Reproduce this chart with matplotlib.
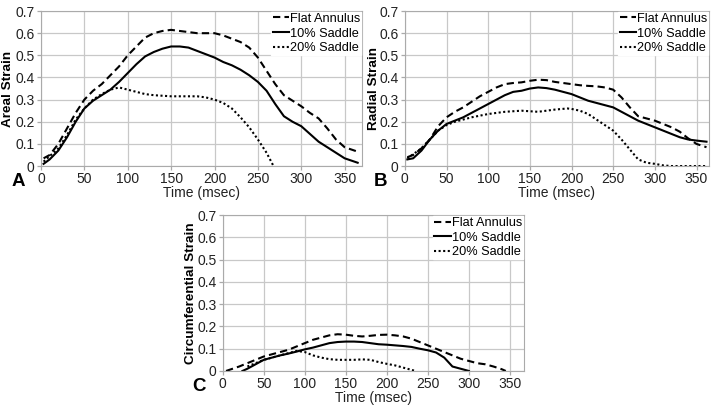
import numpy as np
import matplotlib.pyplot as plt

plt.rcParams['font.family'] = ['Liberation Sans', 'DejaVu Sans']

# Panel A - areal strain
tA_flat = [3, 10, 20, 30, 40, 50, 60, 70, 80, 90, 100, 110, 120, 130, 140, 150, 160, 170, 180, 200,
           210, 220, 230, 240, 250, 260, 270, 280, 290, 300, 310, 320, 330, 340, 350, 365]
areal_flat = [0.035, 0.05, 0.10, 0.17, 0.24, 0.30, 0.34, 0.37, 0.41, 0.45, 0.50, 0.54, 0.58, 0.60, 0.61,
              0.615, 0.61, 0.605, 0.60, 0.60, 0.59, 0.575, 0.56, 0.535, 0.49, 0.43, 0.37, 0.32, 0.295,
              0.27, 0.24, 0.215, 0.17, 0.12, 0.085, 0.065]
tA_10 = [3, 10, 20, 30, 40, 50, 60, 70, 80, 90, 100, 110, 120, 130, 140, 150, 160, 170, 180, 190, 200,
         210, 220, 230, 240, 250, 260, 270, 280, 290, 300, 310, 320, 330, 340, 350, 365]
areal_10 = [0.01, 0.03, 0.07, 0.13, 0.20, 0.26, 0.295, 0.32, 0.345, 0.38, 0.42, 0.46, 0.495, 0.515, 0.53,
            0.54, 0.54, 0.535, 0.52, 0.505, 0.49, 0.47, 0.455, 0.435, 0.41, 0.38, 0.34, 0.28, 0.225,
            0.20, 0.18, 0.145, 0.11, 0.085, 0.06, 0.035, 0.015]
tA_20 = [3, 20, 30, 40, 50, 60, 70, 80, 90, 100, 110, 120, 130, 150, 180, 190, 200, 210, 220, 230,
         240, 250, 260, 268]
areal_20 = [0.02, 0.08, 0.14, 0.21, 0.26, 0.30, 0.325, 0.345, 0.355, 0.345, 0.335, 0.325, 0.32, 0.315,
            0.315, 0.31, 0.30, 0.285, 0.26, 0.22, 0.175, 0.12, 0.06, 0.0]

# Panel B - radial strain
tB_flat = [3, 10, 20, 30, 40, 50, 60, 70, 80, 90, 100, 110, 120, 130, 140, 150, 160, 170, 180, 190,
           200, 210, 220, 230, 240, 250, 260, 270, 280, 290, 300, 310, 320, 330, 340, 350, 362]
radial_flat = [0.04, 0.05, 0.08, 0.12, 0.18, 0.22, 0.245, 0.265, 0.29, 0.315, 0.335, 0.355, 0.37, 0.375,
               0.378, 0.385, 0.39, 0.388, 0.38, 0.375, 0.37, 0.365, 0.362, 0.36, 0.355, 0.345, 0.31,
               0.265, 0.225, 0.215, 0.205, 0.19, 0.175, 0.155, 0.125, 0.10, 0.085]
tB_10 = [3, 10, 20, 30, 40, 50, 60, 70, 80, 90, 100, 110, 120, 130, 140, 150, 160, 170, 180, 190,
         200, 210, 220, 230, 240, 250, 260, 270, 280, 290, 300, 310, 320, 330, 340, 350, 362]
radial_10 = [0.03, 0.035, 0.07, 0.12, 0.16, 0.19, 0.205, 0.22, 0.24, 0.26, 0.28, 0.30, 0.32, 0.335,
             0.34, 0.35, 0.355, 0.352, 0.345, 0.335, 0.325, 0.31, 0.295, 0.285, 0.275, 0.265, 0.245,
             0.225, 0.205, 0.19, 0.175, 0.16, 0.145, 0.13, 0.12, 0.115, 0.11]
tB_20 = [3, 20, 30, 40, 50, 60, 70, 80, 100, 120, 140, 160, 180, 195, 200, 210, 220, 230, 240, 250,
         260, 270, 280, 290, 300, 310, 320, 362]
radial_20 = [0.035, 0.08, 0.12, 0.16, 0.185, 0.20, 0.21, 0.22, 0.235, 0.245, 0.25, 0.245, 0.255, 0.26,
             0.258, 0.25, 0.235, 0.21, 0.185, 0.16, 0.12, 0.075, 0.03, 0.015, 0.01, 0.003, 0.0, 0.0]

# Panel C - circumferential strain
tC_flat = [4, 20, 30, 40, 50, 60, 70, 80, 90, 100, 110, 120, 130, 140, 150, 160, 170, 180, 190, 200,
           210, 220, 230, 240, 250, 260, 270, 280, 290, 300, 310, 320, 330, 340, 345]
circ_flat = [0.0, 0.02, 0.035, 0.05, 0.065, 0.075, 0.085, 0.095, 0.11, 0.125, 0.14, 0.15, 0.16, 0.165,
             0.163, 0.158, 0.155, 0.158, 0.162, 0.163, 0.16, 0.155, 0.145, 0.13, 0.115, 0.10, 0.085,
             0.07, 0.055, 0.045, 0.035, 0.03, 0.02, 0.008, 0.0]
tC_10 = [24, 30, 40, 50, 60, 70, 80, 90, 100, 110, 120, 130, 140, 150, 160, 170, 180, 190, 200, 210,
         220, 230, 240, 250, 260, 270, 280, 290, 300]
circ_10 = [0.0, 0.01, 0.03, 0.05, 0.06, 0.07, 0.078, 0.087, 0.097, 0.105, 0.115, 0.125, 0.13, 0.132,
           0.132, 0.13, 0.125, 0.12, 0.118, 0.115, 0.112, 0.108, 0.10, 0.093, 0.083, 0.06, 0.02,
           0.01, 0.0]
tC_20 = [30, 40, 50, 60, 70, 80, 90, 100, 110, 120, 130, 140, 150, 160, 170, 180, 190, 200, 210, 220,
         230, 235]
circ_20 = [0.02, 0.035, 0.05, 0.06, 0.07, 0.08, 0.09, 0.085, 0.07, 0.06, 0.053, 0.05, 0.05, 0.05, 0.052,
           0.05, 0.04, 0.032, 0.025, 0.015, 0.005, 0.0]

labels = ['Flat Annulus', '10% Saddle', '20% Saddle']

panels = [
    ([0.0574, 0.594, 0.4496, 0.379], 'Areal Strain', -0.084, 'A', (0.016, 0.577), 370,
     [(tA_flat, areal_flat), (tA_10, areal_10), (tA_20, areal_20)]),
    ([0.567, 0.594, 0.426, 0.379], 'Radial Strain', -0.082, 'B', (0.524, 0.577), 365,
     [(tB_flat, radial_flat), (tB_10, radial_10), (tB_20, radial_20)]),
    ([0.312, 0.093, 0.4216, 0.381], 'Circumferential Strain', -0.086, 'C', (0.269, 0.076), 367,
     [(tC_flat, circ_flat), (tC_10, circ_10), (tC_20, circ_20)]),
]
styles = [(0, (3.5, 2)), '-', (0, (1, 1.2))]

fig = plt.figure(figsize=(7.14, 4.09), dpi=100)
for rect, ylab, ylx, letter, lpos, xmax, series in panels:
    ax = fig.add_axes(rect)
    for (t, v), ls, lab in zip(series, styles, labels):
        ax.plot(t, v, color='black', linestyle=ls, linewidth=1.5, label=lab)
    ax.set_xlim(0, xmax)
    ax.set_ylim(0, 0.7)
    ax.set_xticks(np.arange(0, 351, 50))
    ax.set_yticks(np.arange(0, 0.71, 0.1))
    ax.set_yticklabels(['0'] + ['%.1f' % v for v in np.arange(0.1, 0.71, 0.1)])
    ax.grid(True, color='#c8c8c8', linewidth=0.9)
    ax.set_axisbelow(True)
    for s in ax.spines.values():
        s.set_color('#aaaaaa')
    ax.tick_params(length=3, width=0.9, color='#aaaaaa', labelsize=10, pad=1.5,
                   labelcolor='#222222')
    ax.set_xlabel('Time (msec)', fontsize=10, labelpad=0, color='#222222')
    ax.set_ylabel(ylab, fontsize=9.7, fontweight='bold')
    ax.yaxis.set_label_coords(ylx, 0.5)
    leg = ax.legend(loc='upper right', fontsize=9.2, frameon=True, handlelength=1.3,
                    handletextpad=0.05, labelspacing=0.2, borderpad=0.1,
                    borderaxespad=0.05, fancybox=False)
    leg.get_frame().set_edgecolor('white')
    leg.get_frame().set_alpha(1)
    fig.text(lpos[0], lpos[1], letter, fontsize=13.5, fontweight='bold', va='top', ha='left')

plt.savefig('out.png', dpi=100)
